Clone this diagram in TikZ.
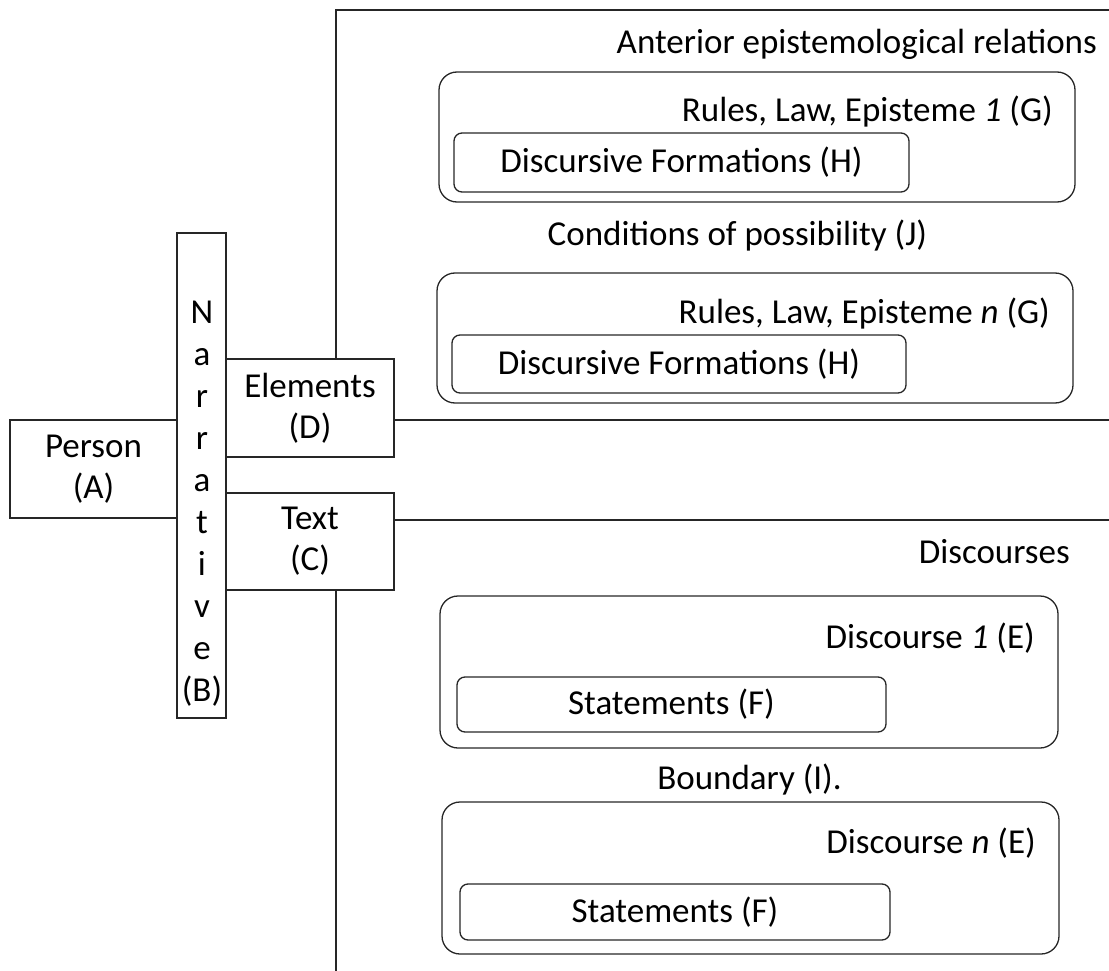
\documentclass[tikz,border=0pt]{standalone}
\usepackage{fontspec}
\setmainfont{Carlito}
\begin{document}
\begin{tikzpicture}[x=1pt,y=-1pt,
  lbl/.style={font=\fontsize{35}{41}\selectfont, inner sep=0pt, text=black},
  sqbox/.style={draw=black!85, line width=1.3pt, inner sep=0pt, align=center,
    font=\fontsize{35}{41}\selectfont},
  bigbox/.style={draw=black!85, line width=1.3pt, rounded corners=18pt, inner sep=0pt},
  smallbox/.style={draw=black!85, line width=1.3pt, rounded corners=8pt, inner sep=0pt,
    font=\fontsize{35}{41}\selectfont},
  conn/.style={draw=black!85, line width=1.3pt}]
\useasboundingbox (0,0) rectangle (1109,971);
% left boxes
\node[sqbox, minimum width=167pt, minimum height=98pt] (A) at (93.5,469) {Person\\(A)};
\node[sqbox, minimum width=49pt, minimum height=485pt] (B) at (201.5,475.5) {};
\node[lbl, align=center, font=\fontsize{35}{42}\selectfont] (Bt) at (202,504) {N\\a\\r\\r\\a\\t\\i\\v\\e\\(B)};
\node[sqbox, minimum width=168pt, minimum height=98pt] (D) at (310,408) {Elements\\(D)};
\node[sqbox, minimum width=168pt, minimum height=97pt] (C) at (310,541.5) {Text\\(C)};
% connector ends
\coordinate (tl) at (336,10);
\coordinate (tr) at (1109,10);
\coordinate (r1) at (1109,420);
\coordinate (r2) at (1109,520);
\coordinate (bt) at (336,971);
\draw[conn] (tl |- D.north) -- (tl) -- (tr);
\draw[conn] (r1 -| D.east) -- (r1);
\draw[conn] (r2 -| C.east) -- (r2);
\draw[conn] (bt |- C.south) -- (bt);
% upper region
\node[lbl, anchor=east] (ant) at (1097,44) {Anterior epistemological relations};
\node[bigbox, minimum width=636pt, minimum height=130pt] (G1) at (757,137) {};
\node[lbl, anchor=east] (G1t) at (1053,112) {Rules, Law, Episteme \textit{1} (G)};
\node[smallbox, minimum width=455pt, minimum height=59pt] (H1) at (681.5,162.5) {Discursive Formations (H)};
\node[lbl] (J) at (737.5,236) {Conditions of possibility (J)};
\node[bigbox, minimum width=636pt, minimum height=130pt] (G2) at (755,338) {};
\node[lbl, anchor=east] (G2t) at (1050,314) {Rules, Law, Episteme \textit{n} (G)};
\node[smallbox, minimum width=454pt, minimum height=58pt] (H2) at (679,364) {Discursive Formations (H)};
% lower region
\node[lbl, anchor=east] (disc) at (1070,552) {Discourses};
\node[bigbox, minimum width=618pt, minimum height=152pt] (E1) at (749,672) {};
\node[lbl, anchor=east] (E1t) at (1035,638) {Discourse \textit{1} (E)};
\node[smallbox, minimum width=429pt, minimum height=55pt] (F1) at (671.5,704.5) {Statements (F)};
\node[lbl] (I) at (749.5,780) {Boundary (I).};
\node[bigbox, minimum width=617pt, minimum height=152pt] (E2) at (750.5,878) {};
\node[lbl, anchor=east] (E2t) at (1036,843) {Discourse \textit{n} (E)};
\node[smallbox, minimum width=430pt, minimum height=56pt] (F2) at (675,912) {Statements (F)};
\end{tikzpicture}
\end{document}
